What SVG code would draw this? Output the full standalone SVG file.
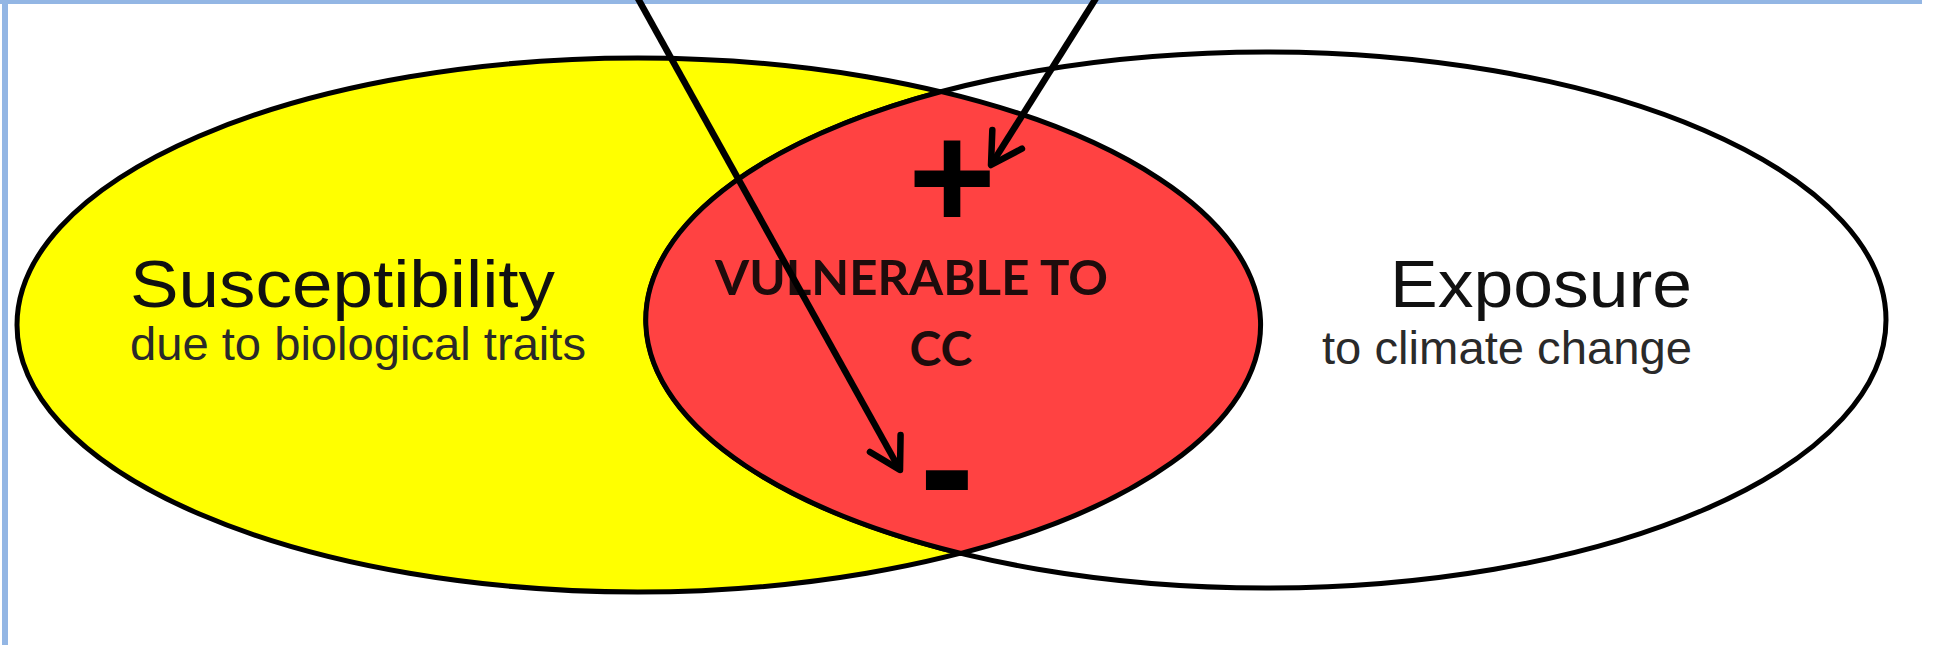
<svg xmlns="http://www.w3.org/2000/svg" width="1934" height="645" viewBox="0 0 1934 645">
<style>
.outline{stroke:#000;stroke-width:5}
.title{font-family:"Liberation Sans",Arial,sans-serif;font-size:66px;fill:#111}
.sub{font-family:"Liberation Sans",Arial,sans-serif;font-size:47px;fill:#2a2a2a}
.vul{font-family:Lato,"Open Sans",sans-serif;font-weight:bold;font-size:48px;fill:#1e0c0c}
.sign{font-family:"Liberation Sans",Arial,sans-serif;font-weight:bold;fill:#000;text-anchor:middle}
.arrow{stroke:#000;stroke-width:6.5;fill:none;marker-end:url(#head)}
</style>
<defs>
<marker id="head" markerUnits="userSpaceOnUse" viewBox="-40 -25 50 50" markerWidth="50" markerHeight="50" refX="0" refY="0" orient="auto">
<path d="M -30.3 -17.5 L 0 0 L -30.3 17.5" fill="none" stroke="#000" stroke-width="6.5" stroke-linecap="round" stroke-linejoin="round"/>
</marker>
</defs>
<rect width="1934" height="645" fill="#fff"/>
<rect x="0" y="0" width="1922" height="4" fill="#93B6E4"/>
<rect x="2" y="0" width="6" height="645" fill="#93B6E4"/>
<g id="susceptibility">
<ellipse cx="638" cy="325" rx="621" ry="267" fill="#FFFF00" class="outline"/>
<text class="title" x="130" y="307" textLength="425" lengthAdjust="spacingAndGlyphs">Susceptibility</text>
<text class="sub" x="130" y="360" textLength="456" lengthAdjust="spacingAndGlyphs">due to biological traits</text>
</g>
<g id="exposure">
<ellipse cx="1266" cy="320" rx="620" ry="268" fill="#fff" class="outline"/>
<text class="title" x="1390" y="307" textLength="302" lengthAdjust="spacingAndGlyphs">Exposure</text>
<text class="sub" x="1322" y="364" textLength="370" lengthAdjust="spacingAndGlyphs">to climate change</text>
</g>
<g id="vulnerable">
<path d="M 941.4 91.6 A 620 268 0 0 0 961 553.4 A 621 267 0 0 0 941.4 91.6 Z" fill="#FF4242" class="outline"/>
<text class="vul" x="715" y="295" textLength="393" lengthAdjust="spacingAndGlyphs">VULNERABLE TO</text>
<text class="vul" x="941" y="366" text-anchor="middle">CC</text>
<text class="sign" x="952" y="229" font-size="150">+</text>
<text class="sign" x="947" y="523" font-size="165">-</text>
</g>
<g id="connectors">
<line class="arrow" x1="636" y1="-5" x2="900" y2="470"/>
<line class="arrow" x1="1098" y1="-5" x2="991" y2="165"/>
</g>
</svg>
